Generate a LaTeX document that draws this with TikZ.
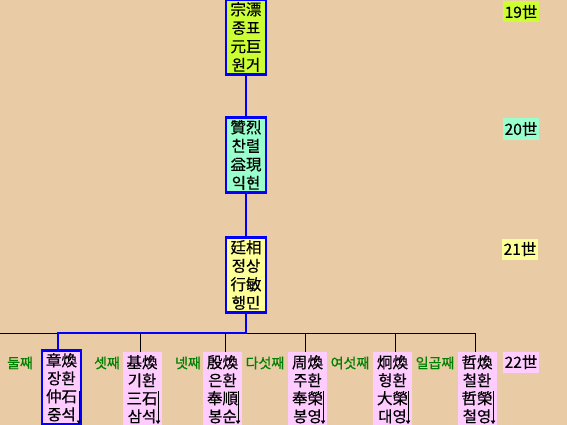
\documentclass[tikz,border=0pt]{standalone}
\usepackage{fontspec}
\newfontfamily\kr[FakeBold=0.5]{Noto Sans CJK KR}
\newfontfamily\krg[FakeBold=0.9]{Noto Sans CJK KR}
\usetikzlibrary{arrows.meta}
\definecolor{bg}{RGB}{233,203,165}
\definecolor{lime}{RGB}{204,255,51}
\definecolor{aqua}{RGB}{153,255,204}
\definecolor{lyel}{RGB}{255,255,153}
\definecolor{lpink}{RGB}{255,204,255}
\definecolor{dgreen}{RGB}{0,128,0}
\definecolor{myblue}{RGB}{0,0,255}
\begin{document}
\begin{tikzpicture}[x=1pt,y=-1pt,
  gen/.style={draw=myblue,line width=2.6pt,minimum width=40pt,minimum height=75pt,inner sep=0pt,
    align=center,font=\kr\fontsize{15.5}{18.5}\selectfont},
  kid/.style={fill=lpink,minimum width=39pt,minimum height=74pt,inner sep=0pt,anchor=north,
    align=center,font=\kr\fontsize{15.5}{18}\selectfont},
  ord/.style={text=dgreen,inner sep=0pt,font=\krg\fontsize{14}{16}\selectfont},
  lvl/.style={minimum width=36pt,minimum height=21pt,inner sep=0pt,font=\kr\fontsize{15.5}{16}\selectfont},
  bl/.style={draw=myblue,line width=2.6pt},
  bk/.style={draw=black,line width=0.9pt},
  ar/.style={draw=black,line width=0.6pt,-{Triangle[length=3.5pt,width=4.5pt]}}]
\useasboundingbox (0,0) rectangle (567,425);
\fill[bg] (0,0) rectangle (567,425);
% generation boxes
\node[gen,fill=lime] (g19) at (246,37) {宗漂\\종표\\元巨\\원거};
\node[gen,fill=aqua] (g20) at (246,155) {贊烈\\찬렬\\益現\\익현};
\node[gen,fill=lyel] (g21) at (246,275) {廷相\\정상\\行敏\\행민};
% level labels
\node[lvl,fill=lime] (l19) at (521,12) {19世};
\node[lvl,fill=aqua] (l20) at (521,129) {20世};
\node[lvl,fill=lyel] (l21) at (520,249) {21世};
\node[lvl,fill=lpink] (l22) at (521,362) {22世};
% junction coordinates
\coordinate (j) at (246,333);
\coordinate (h0) at (0,333);
\coordinate (hb) at (58,333);
\coordinate (hc) at (140,333);
\coordinate (hd) at (225,333);
\coordinate (he) at (305,333);
\coordinate (hf) at (395,333);
\coordinate (hg) at (475,333);
% children
\node[kid,draw=myblue,line width=2.6pt,minimum height=74pt] (c1) at (61.5,349) {章煥\\장환\\仲石\\중석};
\node[kid] (c2) at (142,352) {基煥\\기환\\三石\\삼석};
\node[kid] (c3) at (222.5,352) {殷煥\\은환\\奉順\\봉순};
\node[kid] (c4) at (307.5,352) {周煥\\주환\\奉榮\\봉영};
\node[kid] (c5) at (392.5,352) {炯煥\\형환\\大榮\\대영};
\node[kid] (c6) at (477,352) {哲煥\\철환\\哲榮\\철영};
% order labels
\node[ord] (o2) at (20,363) {둘째};
\node[ord] (o3) at (107,363) {셋째};
\node[ord] (o4) at (188,363) {넷째};
\node[ord] (o5) at (265,363) {다섯째};
\node[ord] (o6) at (350,363) {여섯째};
\node[ord] (o7) at (435,363) {일곱째};
% connectors
\draw[bl] (g19.south) -- (g20.north);
\draw[bl] (g20.south) -- (g21.north);
\draw[bk] (h0) -- (hg);
\draw[bl] (g21.south) -- (j);
\draw[bl] (j) -- (hb) -- (c1.north -| hb);
\draw[bk] (hc) -- (c2.north -| hc);
\draw[bk] (hd) -- (c3.north -| hd);
\draw[bk] (he) -- (c4.north -| he);
\draw[bk] (hf) -- (c5.north -| hf);
\draw[bk] (hg) -- (c6.north -| hg);
% down arrows
\coordinate (a1) at (79,391);  \coordinate (b1) at (79,424);
\coordinate (a2) at (158,391); \coordinate (b2) at (158,424);
\coordinate (a3) at (238,391); \coordinate (b3) at (238,424);
\coordinate (a4) at (323,391); \coordinate (b4) at (323,424);
\coordinate (a5) at (408,391); \coordinate (b5) at (408,424);
\coordinate (a6) at (493,391); \coordinate (b6) at (493,424);
\foreach \i in {1,...,6} {\draw[ar] (a\i) -- (b\i);}
\end{tikzpicture}
\end{document}
